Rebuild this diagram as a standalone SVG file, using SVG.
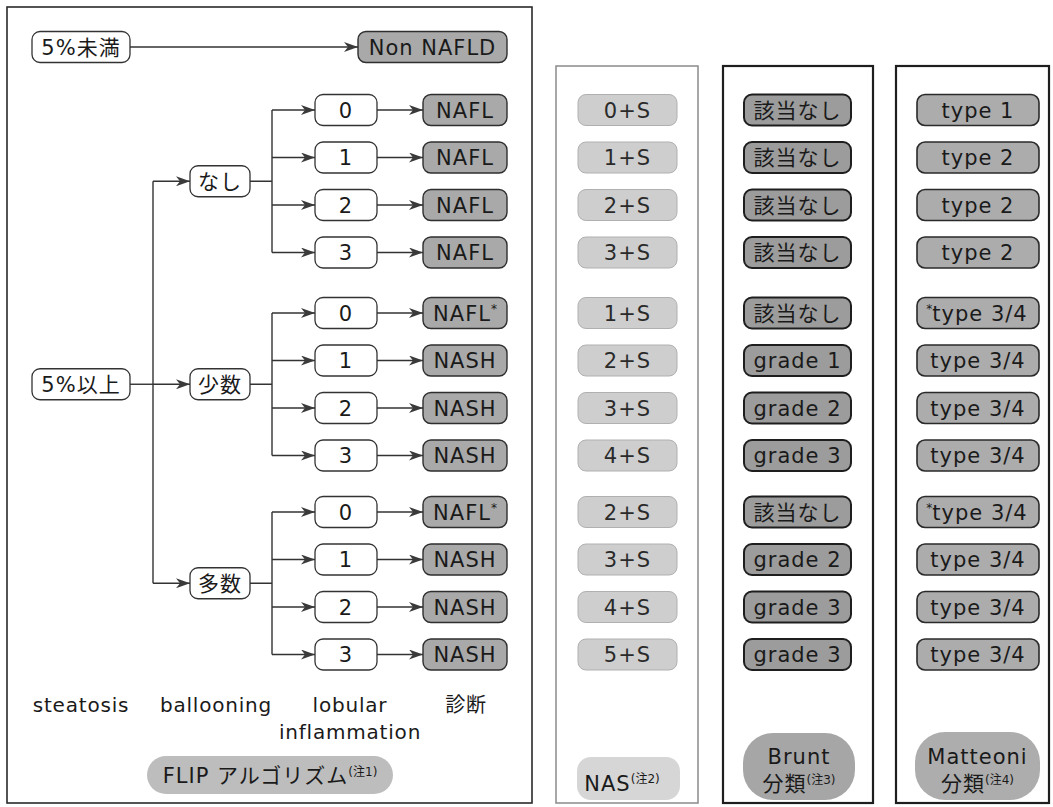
<svg xmlns="http://www.w3.org/2000/svg" width="1053" height="807" viewBox="0 0 1053 807">
<style>
.bg{fill:#ffffff}
.frame{fill:none;stroke:#2a2a2a;stroke-width:1.6}
.frameNas{fill:none;stroke:#8a8a8a;stroke-width:1.5}
.frameDark{fill:none;stroke:#1e1e1e;stroke-width:2.2}
.w{fill:#ffffff;stroke:#333333;stroke-width:1.3}
.d{fill:#a9a9a9;stroke:#2e2e2e;stroke-width:1.4}
.nas{fill:#cecece;stroke:#b0b0b0;stroke-width:1}
.br{fill:#9c9c9c;stroke:#1e1e1e;stroke-width:2}
.mt{fill:#acacac;stroke:#2a2a2a;stroke-width:1.6}
.t{font-family:"DejaVu Sans","Noto Sans CJK JP",sans-serif;font-size:21px;text-anchor:middle;fill:#1a1a1a;letter-spacing:1px}
.tn{fill:#2a2a2a}
.lab{font-family:"DejaVu Sans","Noto Sans CJK JP",sans-serif;font-size:20px;text-anchor:middle;fill:#1a1a1a;letter-spacing:0.8px}
.sup{font-size:12px;letter-spacing:0}
.c{fill:none;stroke:#333333;stroke-width:1.4}
.ca{fill:none;stroke:#333333;stroke-width:1.4;marker-end:url(#ah)}
</style>
<defs>
<marker id="ah" markerUnits="userSpaceOnUse" markerWidth="15" markerHeight="10" refX="14" refY="5" orient="auto">
<path d="M0,0 L14,5 L0,10 L4,5 Z" fill="#3a3a3a"/>
</marker>
</defs>
<rect class="bg" x="0" y="0" width="1053" height="807"/>

<g id="frames">
<rect class="frame" x="7" y="7" width="525" height="796"/>
<rect class="frameNas" x="556" y="66" width="142" height="737"/>
<rect class="frameDark" x="723" y="66" width="150" height="737"/>
<rect class="frameDark" x="896" y="66" width="153" height="737"/>
</g>

<g id="connectors">
<path class="ca" d="M130,47 H358"/>
<path class="c" d="M130,384.25 H153"/>
<path class="ca" d="M153,384.25 H190"/>
<path class="c" d="M153,181.25 V583.25"/>
<path class="ca" d="M153,181.25 H190"/>
<path class="ca" d="M153,583.25 H190"/>
<path class="c" d="M250,181.25 H272 M272,110 V252.5"/>
<path class="c" d="M250,384.25 H272 M272,313 V455.5"/>
<path class="c" d="M250,583.25 H272 M272,512 V654.5"/>
<path class="ca" d="M272,110 H315"/>
<path class="ca" d="M272,157.5 H315"/>
<path class="ca" d="M272,205 H315"/>
<path class="ca" d="M272,252.5 H315"/>
<path class="ca" d="M272,313 H315"/>
<path class="ca" d="M272,360.5 H315"/>
<path class="ca" d="M272,408 H315"/>
<path class="ca" d="M272,455.5 H315"/>
<path class="ca" d="M272,512 H315"/>
<path class="ca" d="M272,559.5 H315"/>
<path class="ca" d="M272,607 H315"/>
<path class="ca" d="M272,654.5 H315"/>
<path class="ca" d="M377,110 H423"/>
<path class="ca" d="M377,157.5 H423"/>
<path class="ca" d="M377,205 H423"/>
<path class="ca" d="M377,252.5 H423"/>
<path class="ca" d="M377,313 H423"/>
<path class="ca" d="M377,360.5 H423"/>
<path class="ca" d="M377,408 H423"/>
<path class="ca" d="M377,455.5 H423"/>
<path class="ca" d="M377,512 H423"/>
<path class="ca" d="M377,559.5 H423"/>
<path class="ca" d="M377,607 H423"/>
<path class="ca" d="M377,654.5 H423"/>
</g>

<g id="n-lt5"><rect class="w" x="32" y="31.5" width="98" height="31" rx="8"/><text class="t" x="81" y="54.5" letter-spacing="0">5%未満</text></g>
<g id="n-nonnafld"><rect class="d" x="358" y="31.5" width="149" height="31" rx="8"/><text class="t" x="432.5" y="54.5">Non NAFLD</text></g>
<g id="n-ge5"><rect class="w" x="32" y="368.75" width="98" height="31" rx="8"/><text class="t" x="81" y="391.75" letter-spacing="0">5%以上</text></g>

<g id="n-nashi"><rect class="w" x="190" y="165.75" width="60" height="31" rx="8"/><text class="t" x="220" y="188.75" letter-spacing="0">なし</text></g>
<g id="n-shosu"><rect class="w" x="190" y="368.75" width="60" height="31" rx="8"/><text class="t" x="220" y="391.75" letter-spacing="0">少数</text></g>
<g id="n-tasu"><rect class="w" x="190" y="567.75" width="60" height="31" rx="8"/><text class="t" x="220" y="590.75" letter-spacing="0">多数</text></g>

<g id="n-a0"><rect class="w" x="315" y="94.5" width="62" height="31" rx="8"/><text class="t" x="346" y="117.5">0</text></g>
<g id="n-a1"><rect class="w" x="315" y="142" width="62" height="31" rx="8"/><text class="t" x="346" y="165">1</text></g>
<g id="n-a2"><rect class="w" x="315" y="189.5" width="62" height="31" rx="8"/><text class="t" x="346" y="212.5">2</text></g>
<g id="n-a3"><rect class="w" x="315" y="237" width="62" height="31" rx="8"/><text class="t" x="346" y="260">3</text></g>
<g id="n-b0"><rect class="w" x="315" y="297.5" width="62" height="31" rx="8"/><text class="t" x="346" y="320.5">0</text></g>
<g id="n-b1"><rect class="w" x="315" y="345" width="62" height="31" rx="8"/><text class="t" x="346" y="368">1</text></g>
<g id="n-b2"><rect class="w" x="315" y="392.5" width="62" height="31" rx="8"/><text class="t" x="346" y="415.5">2</text></g>
<g id="n-b3"><rect class="w" x="315" y="440" width="62" height="31" rx="8"/><text class="t" x="346" y="463">3</text></g>
<g id="n-c0"><rect class="w" x="315" y="496.5" width="62" height="31" rx="8"/><text class="t" x="346" y="519.5">0</text></g>
<g id="n-c1"><rect class="w" x="315" y="544" width="62" height="31" rx="8"/><text class="t" x="346" y="567">1</text></g>
<g id="n-c2"><rect class="w" x="315" y="591.5" width="62" height="31" rx="8"/><text class="t" x="346" y="614.5">2</text></g>
<g id="n-c3"><rect class="w" x="315" y="639" width="62" height="31" rx="8"/><text class="t" x="346" y="662">3</text></g>

<g id="d-a0"><rect class="d" x="423" y="94.5" width="84" height="31" rx="8"/><text class="t" x="465" y="117.5">NAFL</text></g>
<g id="d-a1"><rect class="d" x="423" y="142" width="84" height="31" rx="8"/><text class="t" x="465" y="165">NAFL</text></g>
<g id="d-a2"><rect class="d" x="423" y="189.5" width="84" height="31" rx="8"/><text class="t" x="465" y="212.5">NAFL</text></g>
<g id="d-a3"><rect class="d" x="423" y="237" width="84" height="31" rx="8"/><text class="t" x="465" y="260">NAFL</text></g>
<g id="d-b0"><rect class="d" x="423" y="297.5" width="84" height="31" rx="8"/><text class="t" x="465" y="320.5">NAFL<tspan class="sup" dy="-8">*</tspan></text></g>
<g id="d-b1"><rect class="d" x="423" y="345" width="84" height="31" rx="8"/><text class="t" x="465" y="368">NASH</text></g>
<g id="d-b2"><rect class="d" x="423" y="392.5" width="84" height="31" rx="8"/><text class="t" x="465" y="415.5">NASH</text></g>
<g id="d-b3"><rect class="d" x="423" y="440" width="84" height="31" rx="8"/><text class="t" x="465" y="463">NASH</text></g>
<g id="d-c0"><rect class="d" x="423" y="496.5" width="84" height="31" rx="8"/><text class="t" x="465" y="519.5">NAFL<tspan class="sup" dy="-8">*</tspan></text></g>
<g id="d-c1"><rect class="d" x="423" y="544" width="84" height="31" rx="8"/><text class="t" x="465" y="567">NASH</text></g>
<g id="d-c2"><rect class="d" x="423" y="591.5" width="84" height="31" rx="8"/><text class="t" x="465" y="614.5">NASH</text></g>
<g id="d-c3"><rect class="d" x="423" y="639" width="84" height="31" rx="8"/><text class="t" x="465" y="662">NASH</text></g>

<g id="axis-labels">
<text class="lab" x="81" y="712">steatosis</text>
<text class="lab" x="216" y="712">ballooning</text>
<text class="lab" x="350" y="712">lobular</text>
<text class="lab" x="350" y="739">inflammation</text>
<text class="lab" x="466" y="712">診断</text>
</g>
<g id="l-flip"><rect x="147" y="756" width="246" height="38" rx="19" fill="#bdbdbd"/><text class="t" x="270" y="783" letter-spacing="0">FLIP アルゴリズム<tspan class="sup" dy="-7">(注1)</tspan></text></g>

<g id="nas-col">
<g id="nas-0"><rect class="nas" x="578" y="94.5" width="99" height="31" rx="8"/><text class="t tn" x="627.5" y="117.5">0+S</text></g>
<g id="nas-1"><rect class="nas" x="578" y="142" width="99" height="31" rx="8"/><text class="t tn" x="627.5" y="165">1+S</text></g>
<g id="nas-2"><rect class="nas" x="578" y="189.5" width="99" height="31" rx="8"/><text class="t tn" x="627.5" y="212.5">2+S</text></g>
<g id="nas-3"><rect class="nas" x="578" y="237" width="99" height="31" rx="8"/><text class="t tn" x="627.5" y="260">3+S</text></g>
<g id="nas-4"><rect class="nas" x="578" y="297.5" width="99" height="31" rx="8"/><text class="t tn" x="627.5" y="320.5">1+S</text></g>
<g id="nas-5"><rect class="nas" x="578" y="345" width="99" height="31" rx="8"/><text class="t tn" x="627.5" y="368">2+S</text></g>
<g id="nas-6"><rect class="nas" x="578" y="392.5" width="99" height="31" rx="8"/><text class="t tn" x="627.5" y="415.5">3+S</text></g>
<g id="nas-7"><rect class="nas" x="578" y="440" width="99" height="31" rx="8"/><text class="t tn" x="627.5" y="463">4+S</text></g>
<g id="nas-8"><rect class="nas" x="578" y="496.5" width="99" height="31" rx="8"/><text class="t tn" x="627.5" y="519.5">2+S</text></g>
<g id="nas-9"><rect class="nas" x="578" y="544" width="99" height="31" rx="8"/><text class="t tn" x="627.5" y="567">3+S</text></g>
<g id="nas-10"><rect class="nas" x="578" y="591.5" width="99" height="31" rx="8"/><text class="t tn" x="627.5" y="614.5">4+S</text></g>
<g id="nas-11"><rect class="nas" x="578" y="639" width="99" height="31" rx="8"/><text class="t tn" x="627.5" y="662">5+S</text></g>
<g id="l-nas"><rect x="577" y="757" width="103" height="43" rx="14" fill="#d6d6d6"/><text class="t" x="622" y="791" letter-spacing="0">NAS<tspan class="sup" dy="-8">(注2)</tspan></text></g>
</g>

<g id="brunt-col">
<g id="br-0"><rect class="br" x="744" y="94.5" width="107" height="31" rx="8"/><text class="t" x="797.5" y="117.5" letter-spacing="0">該当なし</text></g>
<g id="br-1"><rect class="br" x="744" y="142" width="107" height="31" rx="8"/><text class="t" x="797.5" y="165" letter-spacing="0">該当なし</text></g>
<g id="br-2"><rect class="br" x="744" y="189.5" width="107" height="31" rx="8"/><text class="t" x="797.5" y="212.5" letter-spacing="0">該当なし</text></g>
<g id="br-3"><rect class="br" x="744" y="237" width="107" height="31" rx="8"/><text class="t" x="797.5" y="260" letter-spacing="0">該当なし</text></g>
<g id="br-4"><rect class="br" x="744" y="297.5" width="107" height="31" rx="8"/><text class="t" x="797.5" y="320.5" letter-spacing="0">該当なし</text></g>
<g id="br-5"><rect class="br" x="744" y="345" width="107" height="31" rx="8"/><text class="t" x="797.5" y="368">grade 1</text></g>
<g id="br-6"><rect class="br" x="744" y="392.5" width="107" height="31" rx="8"/><text class="t" x="797.5" y="415.5">grade 2</text></g>
<g id="br-7"><rect class="br" x="744" y="440" width="107" height="31" rx="8"/><text class="t" x="797.5" y="463">grade 3</text></g>
<g id="br-8"><rect class="br" x="744" y="496.5" width="107" height="31" rx="8"/><text class="t" x="797.5" y="519.5" letter-spacing="0">該当なし</text></g>
<g id="br-9"><rect class="br" x="744" y="544" width="107" height="31" rx="8"/><text class="t" x="797.5" y="567">grade 2</text></g>
<g id="br-10"><rect class="br" x="744" y="591.5" width="107" height="31" rx="8"/><text class="t" x="797.5" y="614.5">grade 3</text></g>
<g id="br-11"><rect class="br" x="744" y="639" width="107" height="31" rx="8"/><text class="t" x="797.5" y="662">grade 3</text></g>
<g id="l-brunt"><rect x="743" y="733" width="112" height="67" rx="30" fill="#a6a6a6"/><text class="t" x="799" y="764">Brunt</text><text class="t" x="799" y="791" letter-spacing="0">分類<tspan class="sup" dy="-7">(注3)</tspan></text></g>
</g>

<g id="matteoni-col">
<g id="mt-0"><rect class="mt" x="917" y="94.5" width="122" height="31" rx="8"/><text class="t" x="978" y="117.5">type 1</text></g>
<g id="mt-1"><rect class="mt" x="917" y="142" width="122" height="31" rx="8"/><text class="t" x="978" y="165">type 2</text></g>
<g id="mt-2"><rect class="mt" x="917" y="189.5" width="122" height="31" rx="8"/><text class="t" x="978" y="212.5">type 2</text></g>
<g id="mt-3"><rect class="mt" x="917" y="237" width="122" height="31" rx="8"/><text class="t" x="978" y="260">type 2</text></g>
<g id="mt-4"><rect class="mt" x="917" y="297.5" width="122" height="31" rx="8"/><text class="t" x="977" y="320.5"><tspan class="sup" dy="-8">*</tspan><tspan dy="8">type 3/4</tspan></text></g>
<g id="mt-5"><rect class="mt" x="917" y="345" width="122" height="31" rx="8"/><text class="t" x="978" y="368">type 3/4</text></g>
<g id="mt-6"><rect class="mt" x="917" y="392.5" width="122" height="31" rx="8"/><text class="t" x="978" y="415.5">type 3/4</text></g>
<g id="mt-7"><rect class="mt" x="917" y="440" width="122" height="31" rx="8"/><text class="t" x="978" y="463">type 3/4</text></g>
<g id="mt-8"><rect class="mt" x="917" y="496.5" width="122" height="31" rx="8"/><text class="t" x="977" y="519.5"><tspan class="sup" dy="-8">*</tspan><tspan dy="8">type 3/4</tspan></text></g>
<g id="mt-9"><rect class="mt" x="917" y="544" width="122" height="31" rx="8"/><text class="t" x="978" y="567">type 3/4</text></g>
<g id="mt-10"><rect class="mt" x="917" y="591.5" width="122" height="31" rx="8"/><text class="t" x="978" y="614.5">type 3/4</text></g>
<g id="mt-11"><rect class="mt" x="917" y="639" width="122" height="31" rx="8"/><text class="t" x="978" y="662">type 3/4</text></g>
<g id="l-matteoni"><rect x="915" y="732" width="125" height="68" rx="30" fill="#adadad"/><text class="t" x="977.5" y="764">Matteoni</text><text class="t" x="977.5" y="791" letter-spacing="0">分類<tspan class="sup" dy="-7">(注4)</tspan></text></g>
</g>
</svg>
